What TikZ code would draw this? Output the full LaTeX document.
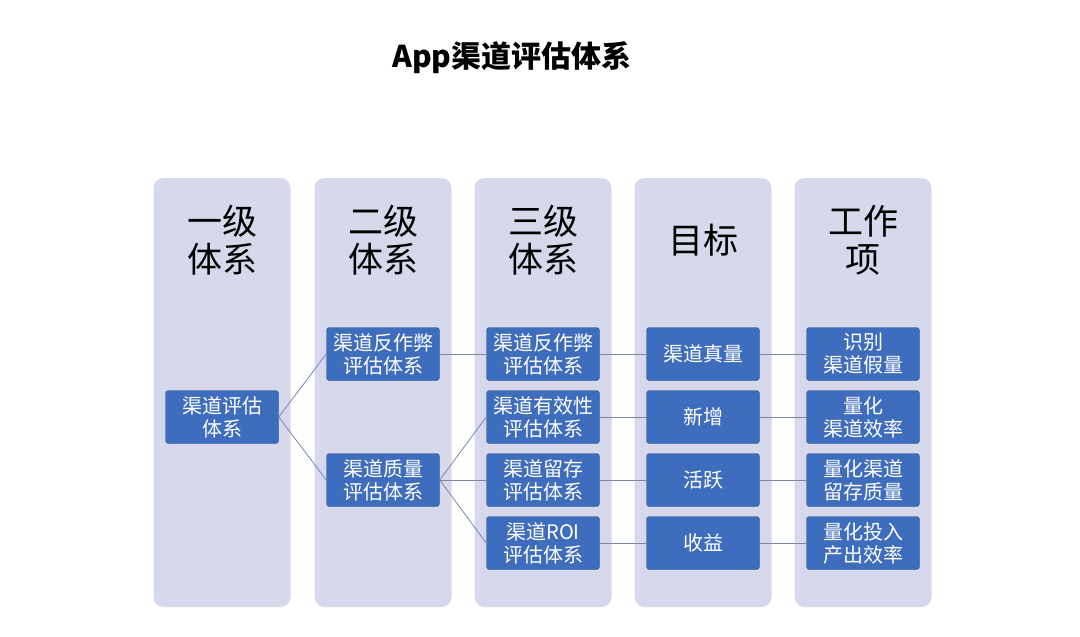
\documentclass[tikz,border=0pt]{standalone}
\usepackage{fontspec}
\setmainfont{Noto Sans CJK SC}
\usetikzlibrary{positioning}

\definecolor{lanefill}{RGB}{213,217,235}
\definecolor{boxblue}{RGB}{63,109,190}
\definecolor{boxline}{RGB}{45,80,140}
\definecolor{linkgray}{RGB}{125,135,160}

\tikzset{
  lane/.style={fill=lanefill,rounded corners=10pt,minimum width=137pt,
    minimum height=429pt,inner sep=0},
  head/.style={align=center,font=\fontsize{35}{38}\selectfont},
  item/.style={draw=boxline,fill=boxblue,text=white,rounded corners=3pt,
    minimum width=113pt,minimum height=53pt,inner sep=0,align=center,
    font=\fontsize{20}{23}\selectfont},
  link/.style={draw=linkgray,line width=0.8pt}
}

\begin{document}
\begin{tikzpicture}[x=1pt,y=-1pt]
  \useasboundingbox (0,0) rectangle (1080,637);
  \node[font=\bfseries\fontsize{30}{36}\selectfont] (title) at (512,58) {App渠道评估体系};
  % the five columns with their headings
  \foreach \x/\n/\t in {222/1/一级\\体系,383/2/二级\\体系,543/3/三级\\体系,703/4/目标,863/5/工作\\项} {
    \node[lane] (l\n) at (\x,392.5) {};
    \node[head] (h\n) at (\x,240) {\t};
  }
  % first and second level
  \node[item] (a) at (222,417) {渠道评估\\体系};
  \node[item] (b1) at (383,354) {渠道反作弊\\评估体系};
  \node[item] (b2) at (383,480) {渠道质量\\评估体系};
  % third level, goals and work items, one row each
  \foreach \y/\n/\c/\d/\e in {354/1/渠道反作弊\\评估体系/渠道真量/识别\\渠道假量,
                             417/2/渠道有效性\\评估体系/新增/量化\\渠道效率,
                             480/3/渠道留存\\评估体系/活跃/量化渠道\\留存质量,
                             543/4/渠道ROI\\评估体系/收益/量化投入\\产出效率} {
    \node[item] (c\n) at (543,\y) {\c};
    \node[item] (d\n) at (703,\y) {\d};
    \node[item] (e\n) at (863,\y) {\e};
    \draw[link] (c\n.east) -- (d\n.west);
    \draw[link] (d\n.east) -- (e\n.west);
  }
  \draw[link] (a.east) -- (b1.west);
  \draw[link] (a.east) -- (b2.west);
  \draw[link] (b1.east) -- (c1.west);
  \foreach \n in {2,3,4}
    \draw[link] (b2.east) -- (c\n.west);
\end{tikzpicture}
\end{document}
